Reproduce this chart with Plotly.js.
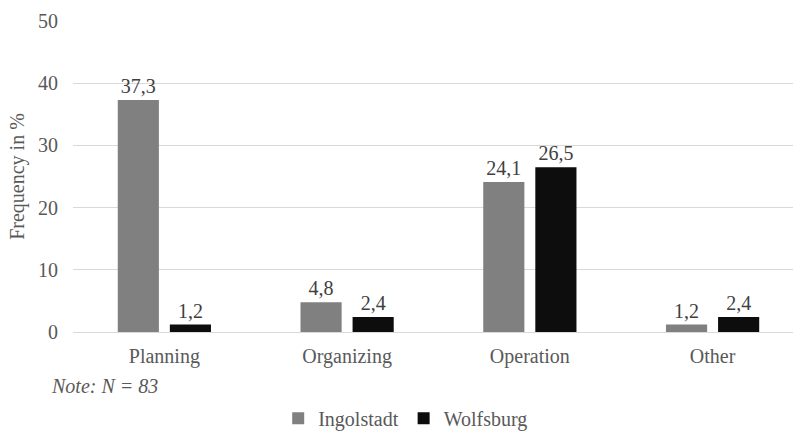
<!DOCTYPE html>
<html>
<head>
<meta charset="utf-8">
<script src="https://cdn.plot.ly/plotly-3.0.1.min.js"></script>
<style>
html,body{margin:0;padding:0;background:#fff;}
#chart{width:793px;height:439px;}
</style>
</head>
<body>
<div id="chart"></div>
<script>
const categories = ["Planning", "Organizing", "Operation", "Other"];
const ingolstadt = [37.3, 4.8, 24.1, 1.2];
const wolfsburg = [1.2, 2.4, 26.5, 2.4];
const yTicks = [0, 10, 20, 30, 40, 50];

const SERIF = "Liberation Serif";
const FS = 20;

const traces = [
  {type: "bar", name: "Ingolstadt", x: categories, y: ingolstadt,
   marker: {color: "#808080"}, texttemplate: "%{y:.1f}", textposition: "outside",
   textfont: {family: SERIF, size: FS, color: "#404040"}, cliponaxis: false, hoverinfo: "none"},
  {type: "bar", name: "Wolfsburg", x: categories, y: wolfsburg,
   marker: {color: "#0d0d0d"}, texttemplate: "%{y:.1f}", textposition: "outside",
   textfont: {family: SERIF, size: FS, color: "#404040"}, cliponaxis: false, hoverinfo: "none"}
];

const layout = {
  width: 793, height: 439,
  margin: {l: 73, r: 0, t: 21, b: 107, pad: 0, autoexpand: false},
  paper_bgcolor: "#fff", plot_bgcolor: "#fff",
  separators: ",.",
  font: {family: SERIF, size: FS, color: "#595959"},
  barmode: "group", bargap: 0.43, bargroupgap: 0.21,
  showlegend: true,
  xaxis: {range: [-0.5, 3.44], type: "category", showgrid: false, showline: false, zeroline: false,
          ticks: "", ticklabelstandoff: 10, tickfont: {family: SERIF, size: FS, color: "#595959"}, fixedrange: true},
  yaxis: {range: [0, 50], tickvals: yTicks, ticktext: yTicks.map(String), showgrid: true, gridcolor: "#d9d9d9",
          gridwidth: 1, zeroline: true, zerolinecolor: "#d9d9d9", zerolinewidth: 1, showline: false, ticks: "",
          ticklabelstandoff: 14, tickfont: {family: SERIF, size: FS, color: "#595959"},
          title: {text: "Frequency in %", font: {family: SERIF, size: FS, color: "#595959"}, standoff: 8}, fixedrange: true},
  legend: {orientation: "h", x: 0.285, xanchor: "left", y: -0.34, yanchor: "bottom",
           font: {family: SERIF, size: FS, color: "#595959"}, itemwidth: 30, traceorder: "normal"},
  annotations: [
    {xref: "paper", yref: "paper", x: -0.034, y: -0.174, xanchor: "left", yanchor: "middle",
     text: "<i>Note: N = 83</i>", showarrow: false, font: {family: SERIF, size: FS, color: "#595959"}}
  ]
};

Plotly.newPlot("chart", traces, layout, {displayModeBar: false, staticPlot: true});
</script>
</body>
</html>
